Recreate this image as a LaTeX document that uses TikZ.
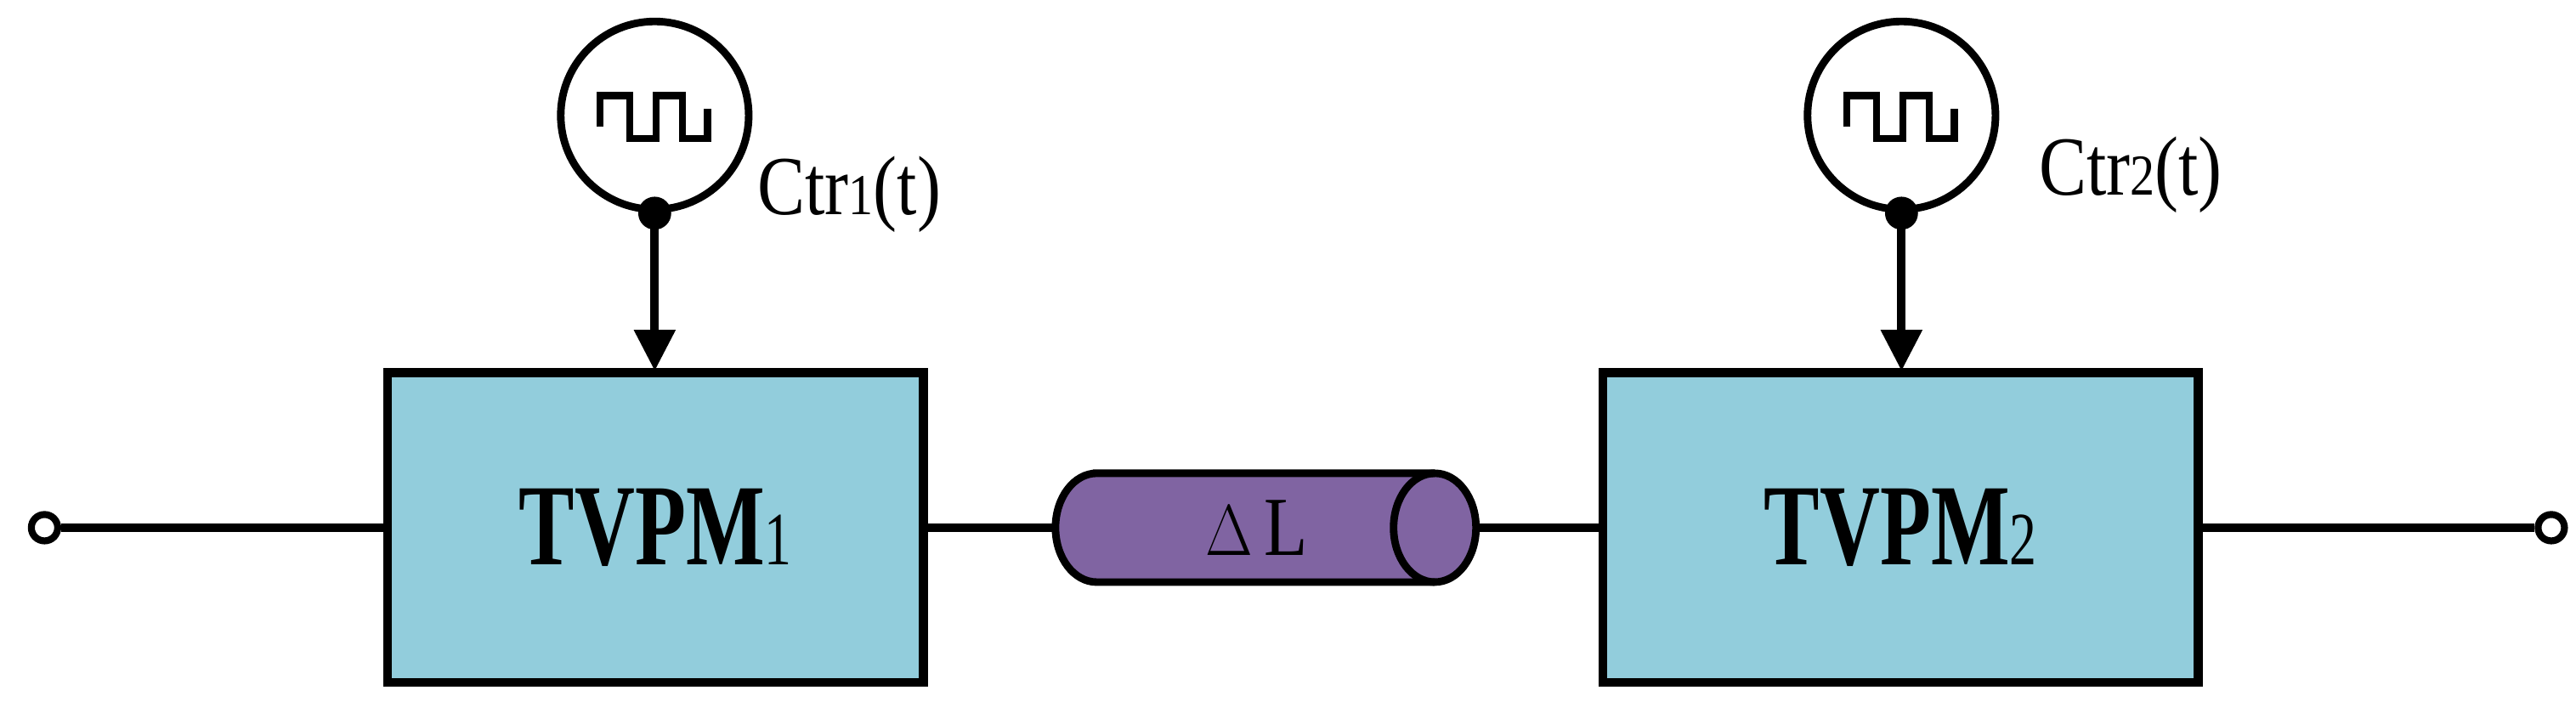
\documentclass[tikz,border=0pt]{standalone}
\usepackage{fontspec}
\setmainfont{Liberation Serif}
\usetikzlibrary{arrows.meta}
\definecolor{boxblue}{HTML}{92CDDC}
\definecolor{cylpurple}{HTML}{8064A2}
\begin{document}
\begin{tikzpicture}[x=0.02cm,y=-0.02cm,
  wire/.style={line width=3pt},
  box/.style={draw,line width=3pt,fill=boxblue,minimum width=6.5cm,minimum height=3.76cm,inner sep=0pt},
  src/.style={draw,circle,line width=2.6pt,minimum size=2.28cm,inner sep=0pt},
  term/.style={draw,circle,line width=2.4pt,fill=white,minimum size=0.32cm,inner sep=0pt},
  lbl/.style={font=\fontsize{29}{34}\selectfont,xscale=0.85},
  big/.style={font=\fontsize{40}{46}\selectfont,xscale=0.72}]
\useasboundingbox (0,0) rectangle (1562,432);
\node[box] (b1) at (397.5,320) {};
\node[big] at (b1) {\textbf{TVPM}{\fontsize{26}{30}\selectfont 1}};
\node[box,minimum width=7.22cm] (b2) at (1152.5,320) {};
\node[big] at (b2) {\textbf{TVPM}{\fontsize{26}{30}\selectfont 2}};
\node[term] (tl) at (27,320) {};
\node[term] (tr) at (1547,320) {};
% cylinder
\coordinate (cl) at (640,320);
\coordinate (cr) at (895,320);
\draw[line width=2.6pt,fill=cylpurple] (665,287) -- (870,287) arc[start angle=90,end angle=-90,x radius=0.5cm,y radius=0.66cm] -- (665,353) arc[start angle=270,end angle=90,x radius=0.5cm,y radius=0.66cm] -- cycle;
\draw[line width=2.6pt] (870,287) arc[start angle=90,end angle=270,x radius=0.5cm,y radius=0.66cm];
\node[lbl] (dl) at (762,320) {$\Delta$\,L};
\draw[wire] (tl) -- (b1.west);
\draw[wire] (b1.east) -- (cl);
\draw[wire] (cr) -- (b2.west);
\draw[wire] (b2.east) -- (tr);
% sources
\foreach \n/\x/\lx/\ly/\k in {s1/397/515/118/1,s2/1153/1292/106/2}{
  \node[src] (\n) at (\x,70) {};
  \draw[line width=2.4pt] (\x-33,77) -- (\x-33,58) -- (\x-15,58) -- (\x-15,84) -- (\x+1,84) -- (\x+1,58) -- (\x+17,58) -- (\x+17,84) -- (\x+32,84) -- (\x+32,66);
  \fill (\n.south) circle (10);
  \draw[line width=3pt,-{Triangle[length=0.5cm,width=0.48cm]}] (\n.south) -- (\x,225);
  \node[lbl] at (\lx,\ly) {Ctr{\fontsize{20}{24}\selectfont\k}(t)};
}
\end{tikzpicture}
\end{document}
